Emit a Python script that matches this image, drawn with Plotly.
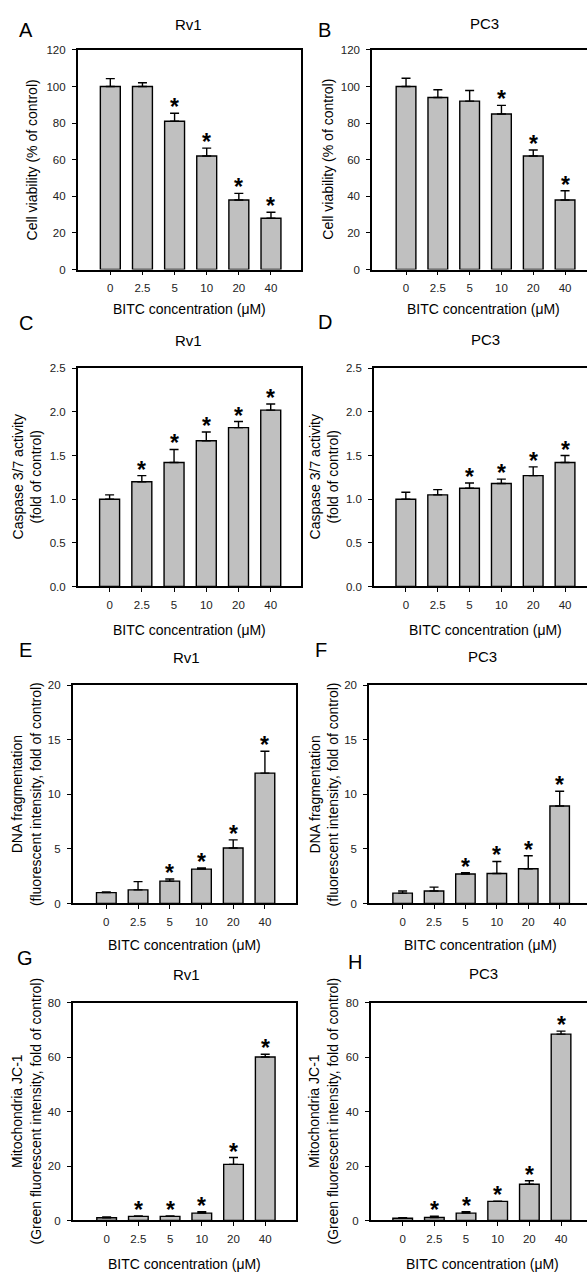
import plotly.graph_objects as go

W, H = 587, 1278

doses = ["0", "2.5", "5", "10", "20", "40"]

rv1_viability = [100, 100, 81, 62, 38, 28]
rv1_viability_err = [4.3, 2.0, 4.4, 4.3, 3.6, 3.3]
rv1_viability_sig = ["", "", "*", "*", "*", "*"]

pc3_viability = [100, 94, 92, 85, 62, 38]
pc3_viability_err = [4.5, 4.2, 5.8, 4.7, 3.3, 5.0]
pc3_viability_sig = ["", "", "", "*", "*", "*"]

rv1_caspase = [1.0, 1.2, 1.42, 1.67, 1.82, 2.02]
rv1_caspase_err = [0.05, 0.07, 0.15, 0.10, 0.07, 0.07]
rv1_caspase_sig = ["", "*", "*", "*", "*", "*"]

pc3_caspase = [1.0, 1.05, 1.125, 1.18, 1.27, 1.42]
pc3_caspase_err = [0.08, 0.06, 0.06, 0.05, 0.10, 0.08]
pc3_caspase_sig = ["", "", "*", "*", "*", "*"]

rv1_dna = [1.0, 1.25, 2.05, 3.15, 5.08, 11.95]
rv1_dna_err = [0.05, 0.75, 0.20, 0.10, 0.75, 2.0]
rv1_dna_sig = ["", "", "*", "*", "*", "*"]

pc3_dna = [0.95, 1.15, 2.7, 2.75, 3.18, 8.93]
pc3_dna_err = [0.20, 0.35, 0.12, 1.10, 1.20, 1.35]
pc3_dna_sig = ["", "", "*", "*", "*", "*"]

rv1_jc1 = [1.0, 1.5, 1.5, 2.7, 20.6, 60.0]
rv1_jc1_err = [0.3, 0.15, 0.15, 0.5, 2.5, 1.0]
rv1_jc1_sig = ["", "*", "*", "*", "*", "*"]

pc3_jc1 = [0.8, 1.1, 2.7, 7.0, 13.3, 68.4]
pc3_jc1_err = [0.2, 0.5, 0.5, 0.1, 1.3, 1.1]
pc3_jc1_sig = ["", "*", "*", "*", "*", "*"]

x_title = "BITC concentration (\u03bcM)"

FONT = "Arial, Liberation Sans, Helvetica, sans-serif"


def px_x(v):
    return v / W


def px_y(v):
    return 1 - v / H


# geometry in pixels: plot left, right, top, bottom; x range; letter pos; title pos; ytitle x; xtitle y
panels = [
    dict(letter="A", title="Rv1", ytitle="Cell viability (% of control)",
         vals=rv1_viability, err=rv1_viability_err, sig=rv1_viability_sig,
         yr=[0, 120], dtick=20, fmt="d",
         box=(77.7, 300.7, 44.3, 266), xr=[-1.015, 5.925],
         lp=(25.5, 24), tp=(189, 19), ytx=31.7, xty=306),
    dict(letter="B", title="PC3", ytitle="Cell viability (% of control)",
         vals=pc3_viability, err=pc3_viability_err, sig=pc3_viability_sig,
         yr=[0, 120], dtick=20, fmt="d",
         box=(372, 587, 44.3, 266), xr=[-1.07, 5.69],
         lp=(324.5, 24), tp=(484, 18), ytx=328, xty=306),
    dict(letter="C", title="Rv1", ytitle="Caspase 3/7 activity<br>(fold of control)",
         vals=rv1_caspase, err=rv1_caspase_err, sig=rv1_caspase_sig,
         yr=[0, 2.5], dtick=0.5, fmt=".1f",
         box=(77.7, 300.7, 365.7, 586), xr=[-0.99, 5.93],
         lp=(26, 320), tp=(189, 338), ytx=27, xty=630),
    dict(letter="D", title="PC3", ytitle="Caspase 3/7 activity<br>(fold of control)",
         vals=pc3_caspase, err=pc3_caspase_err, sig=pc3_caspase_sig,
         yr=[0, 2.5], dtick=0.5, fmt=".1f",
         box=(374, 587, 365.7, 586), xr=[-1.0, 5.69],
         lp=(324.5, 319), tp=(485, 337), ytx=324, xty=630),
    dict(letter="E", title="Rv1", ytitle="DNA fragmentation<br>(fluorescent intensity, fold of control)",
         vals=rv1_dna, err=rv1_dna_err, sig=rv1_dna_sig,
         yr=[0, 20], dtick=5, fmt="d",
         box=(72.7, 296, 685.7, 906), xr=[-1.06, 5.98],
         lp=(25, 650), tp=(186, 658), ytx=26.7, xty=948),
    dict(letter="F", title="PC3", ytitle="DNA fragmentation<br>(fluorescent intensity, fold of control)",
         vals=pc3_dna, err=pc3_dna_err, sig=pc3_dna_sig,
         yr=[0, 20], dtick=5, fmt="d",
         box=(369, 587, 685.7, 906), xr=[-1.07, 5.87],
         lp=(321, 650), tp=(482, 657), ytx=324, xty=948),
    dict(letter="G", title="Rv1", ytitle="Mitochondria JC-1<br>(Green fluorescent intensity, fold of control)",
         vals=rv1_jc1, err=rv1_jc1_err, sig=rv1_jc1_sig,
         yr=[0, 80], dtick=20, fmt="d",
         box=(72.7, 296, 1006, 1226), xr=[-1.07, 5.97],
         lp=(25, 961), tp=(186, 978), ytx=26, xty=1270),
    dict(letter="H", title="PC3", ytitle="Mitochondria JC-1<br>(Green fluorescent intensity, fold of control)",
         vals=pc3_jc1, err=pc3_jc1_err, sig=pc3_jc1_sig,
         yr=[0, 80], dtick=20, fmt="d",
         box=(370.7, 587, 1006, 1226), xr=[-1.01, 5.82],
         lp=(354.5, 965), tp=(483, 977), ytx=323, xty=1270),
]

fig = go.Figure()
annotations = []
layout = {}

for i, p in enumerate(panels):
    n = "" if i == 0 else str(i + 1)
    xa, ya = "x" + n, "y" + n
    left, right, top, bottom = p["box"]
    right_col = (i % 2 == 1)
    fig.add_trace(go.Bar(
        x=doses, y=p["vals"], xaxis=xa, yaxis=ya, width=0.62,
        marker=dict(color="#c0c0c0", line=dict(color="black", width=1.4)),
        error_y=dict(type="data", array=p["err"], arrayminus=[0] * len(p["err"]),
                     symmetric=False, color="black", thickness=1.4, width=4.5),
        showlegend=False, hoverinfo="skip",
    ))
    # significance asterisks just above each error bar (x given as category index)
    for j, (v, e, s) in enumerate(zip(p["vals"], p["err"], p["sig"])):
        if s:
            annotations.append(dict(
                x=j, y=v + e, xref=xa, yref=ya, text="<b>" + s + "</b>", showarrow=False,
                xanchor="center", yanchor="middle", yshift=6,
                font=dict(size=23, color="black", family=FONT)))
    layout["xaxis" + n] = dict(
        domain=[px_x(left), min(1.0, px_x(right))], anchor=ya, type="category",
        categoryorder="array", categoryarray=doses, range=p["xr"],
        showline=True, linecolor="black", linewidth=1.5, mirror=True,
        ticks="outside", ticklen=4, tickwidth=1.2, tickcolor="black",
        ticklabelstandoff=3,
        tickfont=dict(size=11.5, color="#222", family=FONT),
        showgrid=False, zeroline=False, fixedrange=True,
    )
    layout["yaxis" + n] = dict(
        domain=[px_y(bottom), px_y(top)], anchor=xa, range=p["yr"], dtick=p["dtick"],
        tickformat=p["fmt"], showline=True, linecolor="black", linewidth=1.5,
        mirror=(not right_col),
        ticks="outside", ticklen=4, tickwidth=1.2, tickcolor="black",
        ticklabelstandoff=4,
        tickfont=dict(size=11.5, color="#222", family=FONT),
        showgrid=False, zeroline=False, fixedrange=True,
    )
    annotations.append(dict(x=px_x(p["lp"][0]), y=px_y(p["lp"][1]), xref="paper", yref="paper",
                            text=p["letter"], showarrow=False, xanchor="center", yanchor="middle",
                            font=dict(size=20, color="black", family=FONT)))
    annotations.append(dict(x=px_x(p["tp"][0]), y=px_y(p["tp"][1]), xref="paper", yref="paper",
                            text=p["title"], showarrow=False, xanchor="center", yanchor="middle",
                            font=dict(size=15, color="black", family=FONT)))
    annotations.append(dict(x=px_x(p["ytx"]), y=px_y((top + bottom) / 2), xref="paper", yref="paper",
                            text=p["ytitle"], showarrow=False, xanchor="center", yanchor="middle",
                            textangle=-90,
                            font=dict(size=14, color="black", family=FONT)))
    cx = (left + (left + 223 if right_col else right)) / 2
    annotations.append(dict(x=px_x(cx), y=px_y(p["xty"]), xref="paper", yref="paper",
                            text=x_title, showarrow=False, xanchor="center", yanchor="middle",
                            font=dict(size=14, color="black", family=FONT)))

fig.update_layout(
    width=W, height=H, margin=dict(l=0, r=0, t=0, b=0),
    paper_bgcolor="white", plot_bgcolor="white",
    annotations=annotations, bargap=0.38,
    font=dict(family=FONT, color="black"),
    **layout,
)

fig.write_html(
    "out.html",
    config=dict(displayModeBar=False),
    post_script="document.body.style.margin='0';document.body.style.overflow='hidden';",
)
